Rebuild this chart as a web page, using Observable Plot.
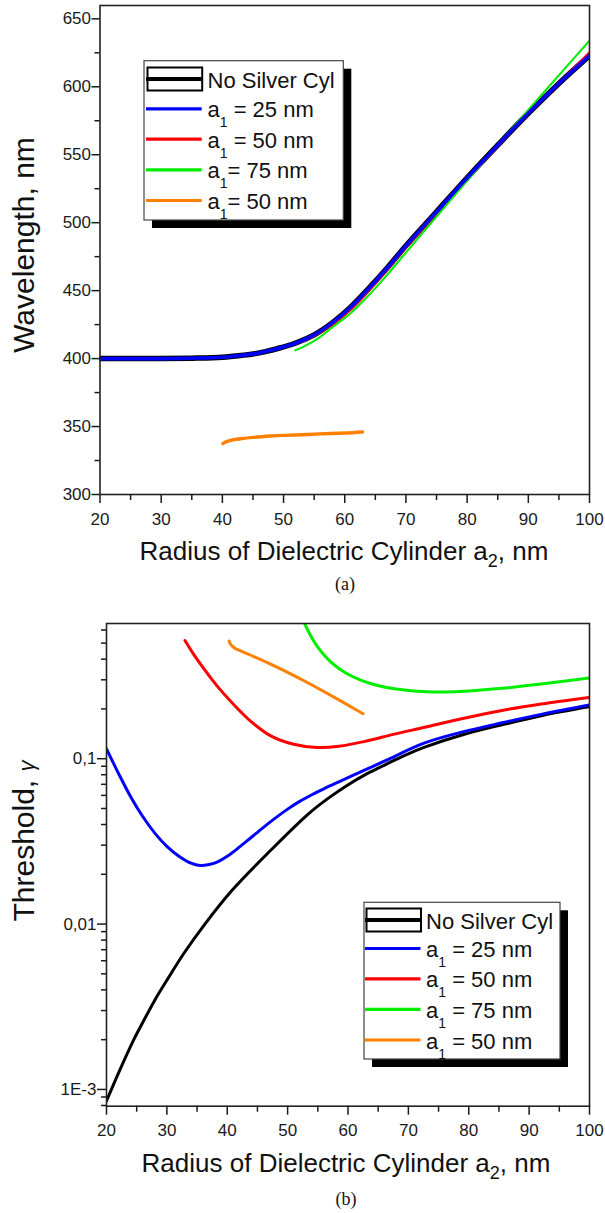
<!DOCTYPE html>
<html><head><meta charset="utf-8">
<script src="https://cdn.jsdelivr.net/npm/d3@7"></script>
<script src="https://cdn.jsdelivr.net/npm/@observablehq/plot@0.6"></script>
<style>
body{margin:0;background:#fff;}
#wrap{position:relative;width:605px;height:1213px;font-family:"Liberation Sans",Arial,sans-serif;color:#111;overflow:hidden;}
#wrap > svg{position:absolute;left:0;}
</style></head><body><div id="wrap"></div>
<script>
// ---------- Panel (a): resonance wavelength vs a2 ----------
const a2_top_black = [20,25,30,35,40,43,46,49,52,55,58,61,64,67,70,75,80,85,90,95,100];
const wl_top_black = [400,400,400,400.3,401,402.3,404.2,407.4,411.5,417.5,426.5,438,452,467,483,508,533,557,580.5,602.5,623];
const a2_top_blue = [20,25,30,35,40,43,46,49,52,55,58,61,64,67,70,75,80,85,90,95,100];
const wl_top_blue = [400,400,400,400.3,401,402.3,404.2,407.4,411.5,417.5,426.5,438,452,467,483,508,533,557,580.5,602.5,623];
const a2_top_red = [51,53,55,58,61,64,67,70,75,80,85,90,95,100];
const wl_top_red = [409.5,412.5,416.5,425,436,450,465.5,481.5,506.5,531.5,556,580,603,625.5];
const a2_top_green = [51.9,54,56,58,61,64,67,70,75,80,85,90,95,100];
const wl_top_green = [406,410.5,416,423,433.5,447,462,478,504.5,531,557,583,608.5,634];
const a2_top_orange = [40.1,40.5,41.5,43,45,48,50,53,56,60,62.9];
const wl_top_orange = [337.4,338.6,340,341,342,343,343.5,344,344.6,345.2,346];

// ---------- Panel (b): threshold gamma vs a2 ----------
const a2_bot_black = [20,22,24.5,26,28,30,32.8,36.3,40.8,47.2,53.5,56.7,59.9,63.1,66.3,69.5,72.7,79,85.5,92,100];
const g_bot_black = [0.000851,0.00126,0.001995,0.00254,0.003467,0.004571,0.006637,0.0100,0.0160,0.02793,0.04656,0.05754,0.06918,0.08091,0.09247,0.1052,0.1175,0.1396,0.1603,0.182,0.2061];
const a2_bot_blue = [20,22,24,26,28,30,32,34,35.5,37,38.5,40,42,44,46,48,50,52,54,56,58,60,63,66.3,72.7,79,85.5,92,100];
const g_bot_blue = [0.1148,0.0813,0.0589,0.0447,0.0355,0.0295,0.0257,0.02333,0.0226,0.02291,0.02388,0.0257,0.02917,0.0335,0.03846,0.04385,0.04955,0.05521,0.06053,0.06577,0.07112,0.07674,0.0861,0.0977,0.1245,0.1452,0.1648,0.1854,0.2113];
const a2_bot_red = [33,34.5,36.3,38.2,40.8,44,47.2,51,54.8,58.5,63.1,67.5,72.7,79,85.5,92,100];
const g_bot_red = [0.5188,0.4246,0.3428,0.2786,0.2178,0.1671,0.1374,0.1222,0.1169,0.1189,0.1279,0.1403,0.1549,0.175,0.1959,0.2143,0.235];
const a2_bot_green = [52.8,53.3,54,55,56,57,58,59,60,62,64,66,68,70,73,76,80,85.5,92,100];
const g_bot_green = [0.6577,0.6026,0.5395,0.4732,0.4246,0.389,0.3622,0.3412,0.3243,0.2999,0.2831,0.2716,0.2636,0.2582,0.2541,0.2535,0.257,0.2667,0.2831,0.3083];
const a2_bot_orange = [40.3,40.6,41.2,42.5,44.5,47,50,53.5,56,59,62.5];
const g_bot_orange = [0.514,0.4898,0.4677,0.4436,0.413,0.3758,0.3327,0.2858,0.2547,0.2213,0.187];

// ---------- ticks / labels ----------
const xTicks = [20,30,40,50,60,70,80,90,100];
const xMinor = [25,35,45,55,65,75,85,95];
const yTicksA = [300,350,400,450,500,550,600,650];
const yMinorA = [325,375,425,475,525,575,625];
const yTicksB = [0.001,0.01,0.1];
const yTickLabelsB = ["1E-3","0,01","0,1"];
const yMinorB = [0.0008,0.0009,0.002,0.003,0.004,0.005,0.006,0.007,0.008,0.009,0.02,0.03,0.04,0.05,0.06,0.07,0.08,0.09,0.2,0.3,0.4,0.5,0.6];

const seriesNames = ["No Silver Cyl","a1 = 25 nm","a1 = 50 nm","a1 = 75 nm","a1 = 50 nm (2)"];
const seriesColors = ["#000000","#0000ff","#ff0000","#00ee00","#ff8000"];
const legendTextsA = [["No Silver Cyl"],["a","1"," = 25 nm"],["a","1"," = 50 nm"],["a","1","= 75 nm"],["a","1","= 50 nm"]];
const legendTextsB = [["No Silver Cyl"],["a","1"," = 25 nm"],["a","1"," = 50 nm"],["a","1"," = 75 nm"],["a","1"," = 50 nm"]];

const rows = (xs, ys) => xs.map((x, i) => ({x, y: ys[i]}));
const FONT = '"Liberation Sans", Arial, sans-serif';
const wrap = document.getElementById("wrap");

const line = (xs, ys, color, w) => Plot.line(rows(xs, ys), {x: "x", y: "y", stroke: color, strokeWidth: w, curve: "catmull-rom", clip: true, strokeLinecap: "round", strokeLinejoin: "round"});

// ---------- Plot A ----------
const plotA = Plot.plot({
  width: 605, height: 575,
  marginLeft: 99.5, marginRight: 16, marginTop: 5, marginBottom: 81,
  style: {fontFamily: FONT, fontSize: "17px", color: "#1a1a1a", background: "transparent"},
  x: {domain: [20, 100]},
  y: {domain: [300, 659.8]},
  marks: [
    line(a2_top_black, wl_top_black, seriesColors[0], 5.5),
    line(a2_top_red, wl_top_red, seriesColors[2], 2),
    line(a2_top_green, wl_top_green, seriesColors[3], 2),
    line(a2_top_blue, wl_top_blue, seriesColors[1], 3.6),
    line(a2_top_orange, wl_top_orange, seriesColors[4], 3.4),
    Plot.frame({stroke: "#222", strokeWidth: 1.6}),
    Plot.axisX({ticks: xTicks, tickSize: 9, tickPadding: 9, strokeWidth: 1.5, label: null, tickFormat: d => String(d)}),
    Plot.axisX({ticks: xMinor, tickSize: 6, strokeWidth: 1.5, label: null, tickFormat: () => ""}),
    Plot.axisY({ticks: yTicksA, tickSize: 8, tickPadding: 1, strokeWidth: 1.5, label: null, tickFormat: d => String(d)}),
    Plot.axisY({ticks: yMinorA, tickSize: 5, strokeWidth: 1.5, label: null, tickFormat: () => ""})
  ]
});
plotA.style.top = "0px";
wrap.appendChild(plotA);

// ---------- Plot B ----------
const plotB = Plot.plot({
  width: 605, height: 580,
  marginLeft: 106, marginRight: 16, marginTop: 18, marginBottom: 79.3,
  style: {fontFamily: FONT, fontSize: "17px", color: "#1a1a1a", background: "transparent"},
  x: {domain: [20, 100]},
  y: {type: "log", domain: [0.000792, 0.657]},
  marks: [
    line(a2_bot_black, g_bot_black, seriesColors[0], 3),
    line(a2_bot_blue, g_bot_blue, seriesColors[1], 3),
    line(a2_bot_red, g_bot_red, seriesColors[2], 3),
    line(a2_bot_green, g_bot_green, seriesColors[3], 3),
    line(a2_bot_orange, g_bot_orange, seriesColors[4], 3),
    Plot.frame({stroke: "#222", strokeWidth: 1.6}),
    Plot.axisX({ticks: xTicks, tickSize: 9, tickPadding: 9, strokeWidth: 1.5, label: null, tickFormat: d => String(d)}),
    Plot.axisX({ticks: xMinor, tickSize: 6, strokeWidth: 1.5, label: null, tickFormat: () => ""}),
    Plot.axisY({ticks: yTicksB, tickSize: 9, tickPadding: 1, strokeWidth: 1.5, label: null, tickFormat: d => yTickLabelsB[yTicksB.indexOf(d)]}),
    Plot.axisY({ticks: yMinorB, tickSize: 5, strokeWidth: 1.5, label: null, tickFormat: () => ""})
  ]
});
plotB.style.top = "605px";
wrap.appendChild(plotB);

// ---------- Overlay: titles, captions, legends ----------
const ov = d3.create("svg").attr("width", 605).attr("height", 1213)
  .style("position", "absolute").style("left", "0px").style("top", "0px")
  .style("font-family", FONT).style("pointer-events", "none");

function xTitle(cx, baseline) {
  const t = ov.append("text").attr("x", cx).attr("y", baseline).attr("text-anchor", "middle")
    .attr("font-size", 26).attr("fill", "#111");
  t.append("tspan").text("Radius of Dielectric Cylinder a");
  t.append("tspan").attr("dy", 7).attr("font-size", 18).text("2");
  t.append("tspan").attr("dy", -7).text(", nm");
}
xTitle(344, 560);
xTitle(346, 1171.5);

ov.append("text").attr("transform", "translate(34,245) rotate(-90)").attr("text-anchor", "middle")
  .attr("font-size", 30).attr("fill", "#111").text("Wavelength, nm");
const th = ov.append("text").attr("transform", "translate(34,841) rotate(-90)").attr("text-anchor", "middle")
  .attr("font-size", 30).attr("fill", "#111");
th.append("tspan").text("Threshold, ");
th.append("tspan").attr("font-size", 22).attr("font-style", "italic").text("γ");

ov.append("text").attr("x", 345).attr("y", 589.5).attr("text-anchor", "middle")
  .attr("font-family", '"Liberation Serif", "Times New Roman", serif').attr("font-size", 18).attr("fill", "#111").text("(a)");
ov.append("text").attr("x", 346).attr("y", 1204.5).attr("text-anchor", "middle")
  .attr("font-family", '"Liberation Serif", "Times New Roman", serif').attr("font-size", 18).attr("fill", "#111").text("(b)");

function legend(box, rowsY, sx0, sx1, tx, texts) {
  const g = ov.append("g");
  g.append("rect").attr("x", box.x + 8).attr("y", box.y + 8).attr("width", box.w).attr("height", box.h).attr("fill", "#000");
  g.append("rect").attr("x", box.x).attr("y", box.y).attr("width", box.w).attr("height", box.h)
    .attr("fill", "#fff").attr("stroke", "#444").attr("stroke-width", 1.2);
  rowsY.forEach((y, i) => {
    if (i === 0) {
      g.append("rect").attr("x", sx0 + 1.5).attr("y", y - 11.5).attr("width", sx1 - sx0 - 1).attr("height", 23)
        .attr("fill", "none").attr("stroke", "#000").attr("stroke-width", 2);
      g.append("line").attr("x1", sx0).attr("x2", sx1).attr("y1", y).attr("y2", y)
        .attr("stroke", "#000").attr("stroke-width", 4);
    } else {
      g.append("line").attr("x1", sx0).attr("x2", sx1).attr("y1", y).attr("y2", y)
        .attr("stroke", seriesColors[i]).attr("stroke-width", 3.2);
    }
    const t = g.append("text").attr("x", tx).attr("y", y + 8.5).attr("font-size", 22).attr("fill", "#111");
    const parts = texts[i];
    if (parts.length === 1) t.text(parts[0]);
    else {
      t.append("tspan").text(parts[0]);
      t.append("tspan").attr("dy", 10).attr("font-size", 14).text(parts[1]);
      t.append("tspan").attr("dy", -10).text(parts[2]);
    }
  });
}
legend({x: 144, y: 60.7, w: 199.3, h: 159.3}, [79, 108.8, 139.2, 169.8, 200.5], 146, 201.7, 207.5, legendTextsA);
legend({x: 364, y: 902.3, w: 196, h: 156.7}, [920, 948.5, 978.8, 1009.3, 1040], 365, 420.5, 426, legendTextsB);

wrap.appendChild(ov.node());
</script></body></html>
